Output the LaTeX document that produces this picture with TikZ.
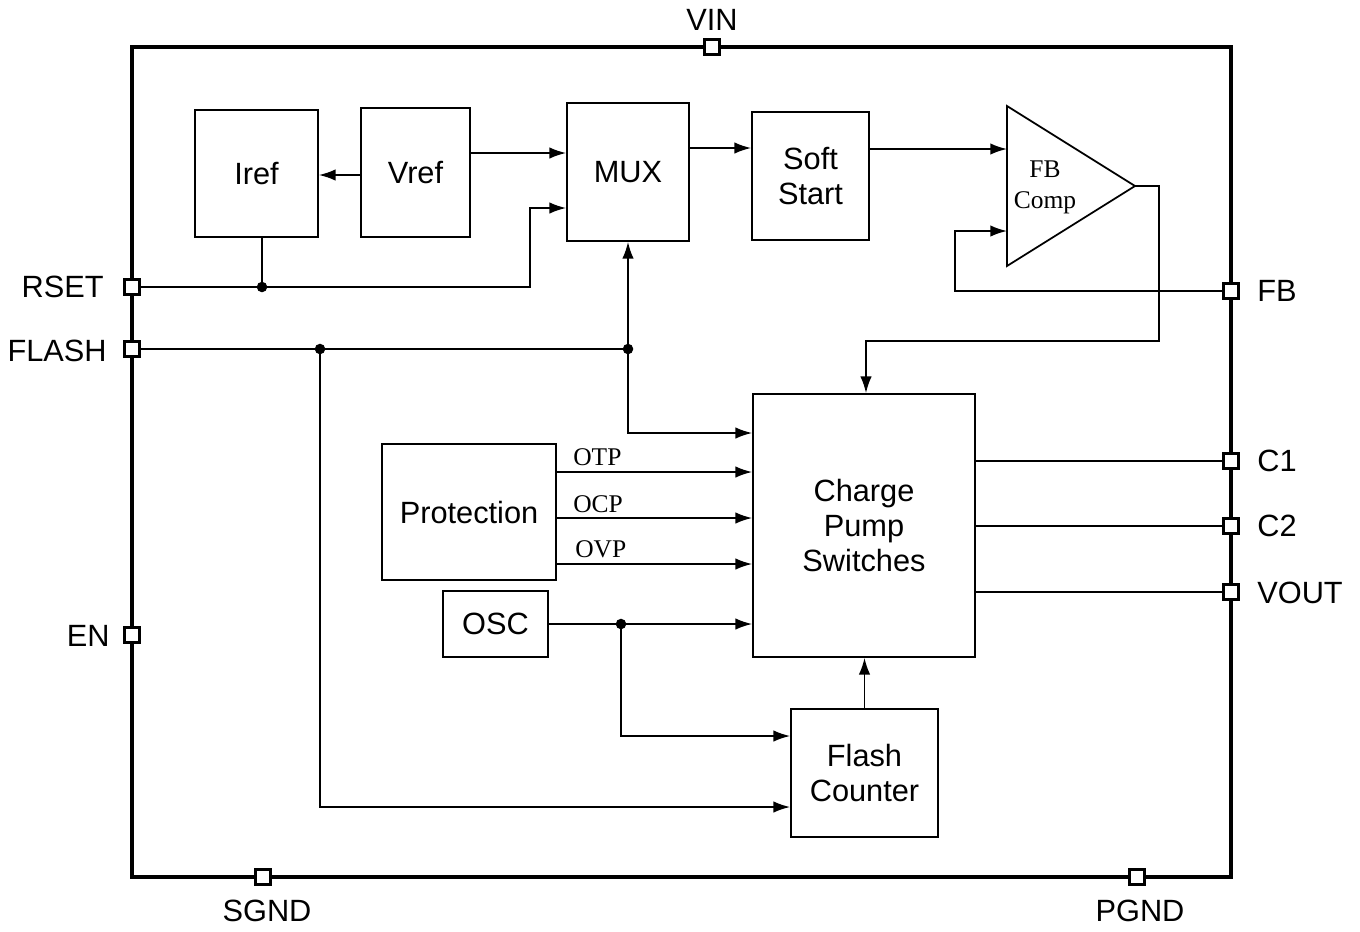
\documentclass[tikz,border=0pt]{standalone}
\usepackage{fontspec}
\setmainfont{Liberation Sans}
\newfontfamily\tms{Liberation Serif}
\usetikzlibrary{arrows.meta,calc}
\begin{document}
\begin{tikzpicture}[x=0.02cm,y=-0.02cm,
  box/.style={draw, line width=1pt, inner sep=0pt, align=center, font=\fontsize{17.5}{20}\selectfont},
  pin/.style={draw, fill=white, line width=1.6pt, minimum size=0.3cm, inner sep=0pt},
  arr/.style={-{Latex[length=9.5pt,width=6.5pt]}, line width=1pt},
  wire/.style={line width=1pt},
  lbl/.style={inner sep=0pt, font=\fontsize{17.5}{20}\selectfont},
  slbl/.style={inner sep=0pt, align=center, font=\tms\fontsize{14.5}{17.5}\selectfont},
  jdot/.style={circle, fill, inner sep=0pt, minimum size=6pt}]
\useasboundingbox (0,0) rectangle (1360,931);
% outer frame
\draw[line width=1.8pt] (132,47) rectangle (1231,877);
% pins
\node[pin] (vin) at (712,47) {};
\node[pin] (rset) at (132,287) {};
\node[pin] (flash) at (132,349) {};
\node[pin] (en) at (132,635) {};
\node[pin] (fb) at (1231,291) {};
\node[pin] (c1) at (1231,461) {};
\node[pin] (c2) at (1231,526) {};
\node[pin] (vout) at (1231,592) {};
\node[pin] (sgnd) at (263,877) {};
\node[pin] (pgnd) at (1137,877) {};
% pin labels
\node[lbl] (lvin) at (712,20) {VIN};
\node[lbl, anchor=east] (lrset) at (104,287) {RSET};
\node[lbl, anchor=east] (lflash) at (107,351) {FLASH};
\node[lbl, anchor=east] (len) at (110,636) {EN};
\node[lbl, anchor=west] (lfb) at (1257,291) {FB};
\node[lbl, anchor=west] (lc1) at (1257,461) {C1};
\node[lbl, anchor=west] (lc2) at (1257,526) {C2};
\node[lbl, anchor=west] (lvout) at (1257,593) {VOUT};
\node[lbl] (lsgnd) at (267,911) {SGND};
\node[lbl] (lpgnd) at (1140,911) {PGND};
% blocks
\node[box, minimum width=2.46cm, minimum height=2.54cm] (iref) at (256.5,173.5) {Iref};
\node[box, minimum width=2.18cm, minimum height=2.58cm] (vref) at (415.5,172.5) {Vref};
\node[box, minimum width=2.44cm, minimum height=2.76cm] (mux) at (628,172) {MUX};
\node[box, minimum width=2.34cm, minimum height=2.56cm] (soft) at (810.5,176) {Soft\\Start};
\node[box, minimum width=4.44cm, minimum height=5.26cm] (cp) at (864,525.5) {Charge\\Pump\\Switches};
\node[box, minimum width=3.48cm, minimum height=2.72cm] (prot) at (469,512) {Protection};
\node[box, minimum width=2.1cm, minimum height=1.32cm] (osc) at (495.5,624) {OSC};
\node[box, minimum width=2.94cm, minimum height=2.56cm] (fc) at (864.5,773) {Flash\\Counter};
% FB comparator
\coordinate (tl) at (1007,106);
\coordinate (bl) at (1007,266);
\coordinate (ap) at (1135,186);
\draw[line width=1pt] (tl) -- (ap) -- (bl) -- cycle;
\node[slbl] (fbc) at (1045,187) {FB\\Comp};
% junctions
\coordinate (j1) at (262,287);
\coordinate (j2) at (320,349);
\coordinate (j3) at (628,349);
\coordinate (j4) at (621,624);
% connections
\draw[arr] (vref.west |- 0,175) -- (iref.east |- 0,175);
\draw[arr] (vref.east |- 0,153) -- (mux.west |- 0,153);
\draw[arr] (rset.east) -- (530,287) -- (530,208) -- (mux.west |- 0,208);
\draw[wire] (iref.south -| j1) -- (j1);
\draw[arr] (mux.east |- 0,148) -- (soft.west |- 0,148);
\draw[arr] (soft.east |- 0,149) -- (tl |- 0,149);
\draw[arr] (fb.west) -- (955,291) -- (955,231) -- (tl |- 0,231);
\draw[arr] (ap) -- (1159,186) -- (1159,341) -- (866,341) -- (866,341 |- cp.north);
\draw[wire] (flash.east) -- (j3);
\draw[arr] (j3) -- (j3 |- mux.south);
\draw[arr] (j3) -- (628,433) -- (cp.west |- 0,433);
\draw[arr] (j2) -- (320,807) -- (fc.west |- 0,807);
\draw[arr] (prot.east |- 0,472) -- (cp.west |- 0,472);
\draw[arr] (prot.east |- 0,518) -- (cp.west |- 0,518);
\draw[arr] (prot.east |- 0,564) -- (cp.west |- 0,564);
\draw[arr] (osc.east |- 0,624) -- (cp.west |- 0,624);
\draw[arr] (j4) -- (621,736) -- (fc.west |- 0,736);
\draw[arr] (fc.north) -- (fc.north |- cp.south);
\draw[wire] (cp.east |- c1) -- (c1.west);
\draw[wire] (cp.east |- c2) -- (c2.west);
\draw[wire] (cp.east |- vout) -- (vout.west);
\node[jdot] at (j1) {};
\node[jdot] at (j2) {};
\node[jdot] at (j3) {};
\node[jdot] at (j4) {};
% signal labels
\node[slbl, anchor=west] (otp) at (573,457) {OTP};
\node[slbl, anchor=west] (ocp) at (573,504) {OCP};
\node[slbl, anchor=west] (ovp) at (575,549) {OVP};
\end{tikzpicture}
\end{document}
